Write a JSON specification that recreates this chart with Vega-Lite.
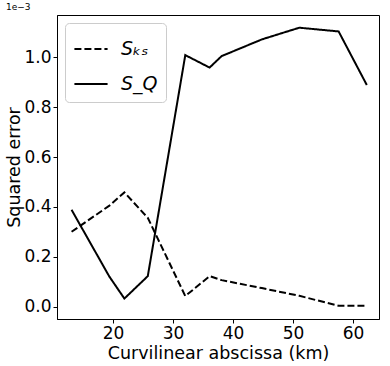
{
  "$schema": "https://vega.github.io/schema/vega-lite/v6.json",
  "autosize": {"type": "none"},
  "padding": {"left": 57, "top": 15, "right": 11, "bottom": 48},
  "width": 322,
  "height": 304,
  "background": "white",
  "title": {"text": "1e−3", "anchor": "start", "fontSize": 9, "font": "DejaVu Sans", "fontWeight": "normal", "offset": 3, "color": "black"},
  "config": {
    "view": {"stroke": "black", "strokeWidth": 1},
    "font": "DejaVu Sans",
    "axis": {"domainColor": "black", "tickColor": "black", "labelColor": "black", "titleColor": "black", "grid": false, "labelFontSize": 17, "titleFontSize": 17.5, "titleFontWeight": "normal", "tickSize": 4, "labelFont": "DejaVu Sans", "titleFont": "DejaVu Sans"}
  },
  "data": {"values": [
    {"x": 13.1, "y": 0.300, "s": "Sₖₛ"},
    {"x": 19.4, "y": 0.405, "s": "Sₖₛ"},
    {"x": 21.9, "y": 0.458, "s": "Sₖₛ"},
    {"x": 25.8, "y": 0.356, "s": "Sₖₛ"},
    {"x": 32.05, "y": 0.042, "s": "Sₖₛ"},
    {"x": 36.1, "y": 0.122, "s": "Sₖₛ"},
    {"x": 38.1, "y": 0.106, "s": "Sₖₛ"},
    {"x": 44.8, "y": 0.074, "s": "Sₖₛ"},
    {"x": 51.05, "y": 0.043, "s": "Sₖₛ"},
    {"x": 57.6, "y": 0.003, "s": "Sₖₛ"},
    {"x": 62.3, "y": 0.003, "s": "Sₖₛ"},
    {"x": 13.1, "y": 0.388, "s": "S_Q"},
    {"x": 19.4, "y": 0.120, "s": "S_Q"},
    {"x": 21.9, "y": 0.032, "s": "S_Q"},
    {"x": 25.8, "y": 0.122, "s": "S_Q"},
    {"x": 32.05, "y": 1.009, "s": "S_Q"},
    {"x": 36.1, "y": 0.959, "s": "S_Q"},
    {"x": 38.1, "y": 1.005, "s": "S_Q"},
    {"x": 44.8, "y": 1.072, "s": "S_Q"},
    {"x": 51.05, "y": 1.119, "s": "S_Q"},
    {"x": 57.6, "y": 1.104, "s": "S_Q"},
    {"x": 62.3, "y": 0.889, "s": "S_Q"}
  ]},
  "mark": {"type": "line", "color": "black", "strokeWidth": 2},
  "encoding": {
    "x": {"field": "x", "type": "quantitative", "title": "Curvilinear abscissa (km)",
          "scale": {"domain": [10.67, 64.33], "nice": false, "zero": false},
          "axis": {"values": [20, 30, 40, 50, 60], "titlePadding": 3, "labelPadding": 2}},
    "y": {"field": "y", "type": "quantitative", "title": "Squared error",
          "scale": {"domain": [-0.05, 1.17], "nice": false, "zero": false},
          "axis": {"values": [0, 0.2, 0.4, 0.6, 0.8, 1.0], "format": ".1f", "titlePadding": 0, "labelPadding": 2}},
    "strokeDash": {"field": "s", "type": "nominal",
          "scale": {"domain": ["Sₖₛ", "S_Q"], "range": [[7, 3], [1, 0]]},
          "legend": {"title": null, "orient": "top-left", "offset": 8, "fillColor": "white", "strokeColor": "#cccccc", "cornerRadius": 4, "padding": 8,
                     "symbolType": "stroke", "symbolSize": 1100, "symbolStrokeWidth": 2, "symbolStrokeColor": "black",
                     "labelFontSize": 19, "labelFontStyle": "italic", "labelColor": "black", "rowPadding": 7, "labelOffset": 12}},
    "order": {"field": "x", "type": "quantitative"}
  }
}
